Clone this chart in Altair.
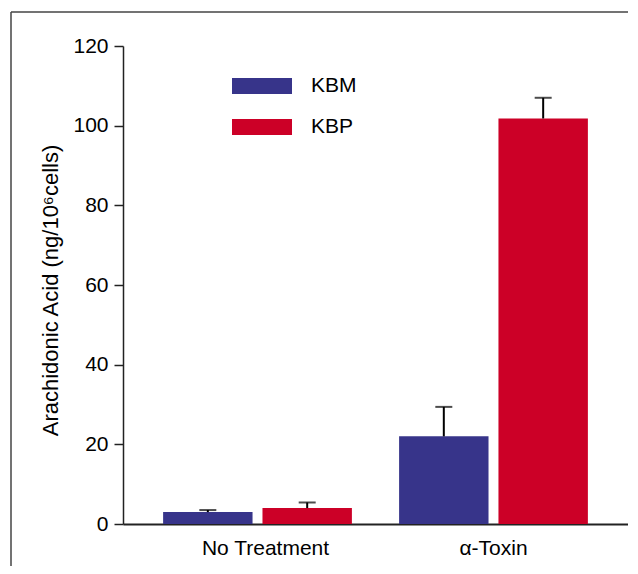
import altair as alt
import pandas as pd

categories = ["No Treatment", "No Treatment", "α-Toxin", "α-Toxin"]
groups = ["KBM", "KBP", "KBM", "KBP"]
values = [3.0, 4.0, 22.0, 101.8]
errors = [0.5, 1.4, 7.4, 5.2]

cat_order = ["No Treatment", "α-Toxin"]
group_order = ["KBM", "KBP"]
colors = ["#37348A", "#CC0027"]

df = pd.DataFrame({"cat": categories, "grp": groups, "val": values, "err": errors})
df["upper"] = df["val"] + df["err"]

FONT = "Liberation Sans"
FS = 21

x_enc = alt.X("cat:N", sort=cat_order, title=None,
              scale=alt.Scale(paddingInner=0.2, paddingOuter=0.17),
              axis=alt.Axis(labelAngle=0, ticks=False, labelFontSize=FS, labelFont=FONT,
                            labelColor="black", domainColor="#222", domainWidth=2,
                            labelPadding=13,
                            labelOffset=alt.ExprRef("datum.value == 'No Treatment' ? 8 : 0")))
xo_enc = alt.XOffset("grp:N", sort=group_order,
                     scale=alt.Scale(paddingInner=0.1, paddingOuter=0))

bars = alt.Chart(df).mark_bar().encode(
    x=x_enc,
    xOffset=xo_enc,
    y=alt.Y("val:Q", scale=alt.Scale(domain=[0, 120], nice=False),
            title="Arachidonic Acid (ng/10⁶cells)",
            axis=alt.Axis(values=[0, 20, 40, 60, 80, 100, 120], grid=False,
                          tickSize=9, tickColor="#222", tickWidth=1.5,
                          domainColor="#222", domainWidth=1.5,
                          labelFontSize=FS, labelFont=FONT, labelColor="black",
                          labelPadding=6, titleFontSize=22, titleFont=FONT,
                          titleFontWeight="normal", titleColor="black",
                          titlePadding=10, titleY=244)),
    color=alt.Color("grp:N", sort=group_order,
                    scale=alt.Scale(domain=group_order, range=colors),
                    legend=alt.Legend(title=None, orient="none", legendX=109, legendY=10,
                                      symbolType="M-1,-0.2667H1V0.2667H-1Z",
                                      symbolSize=3600, symbolStrokeWidth=0,
                                      labelFontSize=FS, labelFont=FONT, labelColor="black",
                                      labelOffset=19, rowPadding=1, padding=0)),
)

err_rule = alt.Chart(df).mark_rule(color="black", strokeWidth=2).encode(
    x=alt.X("cat:N", sort=cat_order),
    xOffset=xo_enc,
    y="val:Q",
    y2="upper:Q",
)

err_cap = alt.Chart(df).mark_tick(color="black", thickness=2, size=17).encode(
    x=alt.X("cat:N", sort=cat_order),
    xOffset=xo_enc,
    y="upper:Q",
)

frame_top = alt.Chart(alt.Data(values=[{}])).mark_rule(color="#444", strokeWidth=1.5).encode(
    x=alt.value(-112), x2=alt.value(520), y=alt.value(-34))
frame_left = alt.Chart(alt.Data(values=[{}])).mark_rule(color="#444", strokeWidth=1.5).encode(
    x=alt.value(-112), y=alt.value(-34), y2=alt.value(560))

chart = alt.layer(frame_top, frame_left, bars, err_rule, err_cap).properties(
    width=505, height=478,
    autosize=alt.AutoSizeParams(type="none"),
    padding={"left": 115, "top": 38, "right": 0, "bottom": 42},
).configure_view(stroke=None)

chart.save("out.html", embed_options={"renderer": "svg", "actions": False})
